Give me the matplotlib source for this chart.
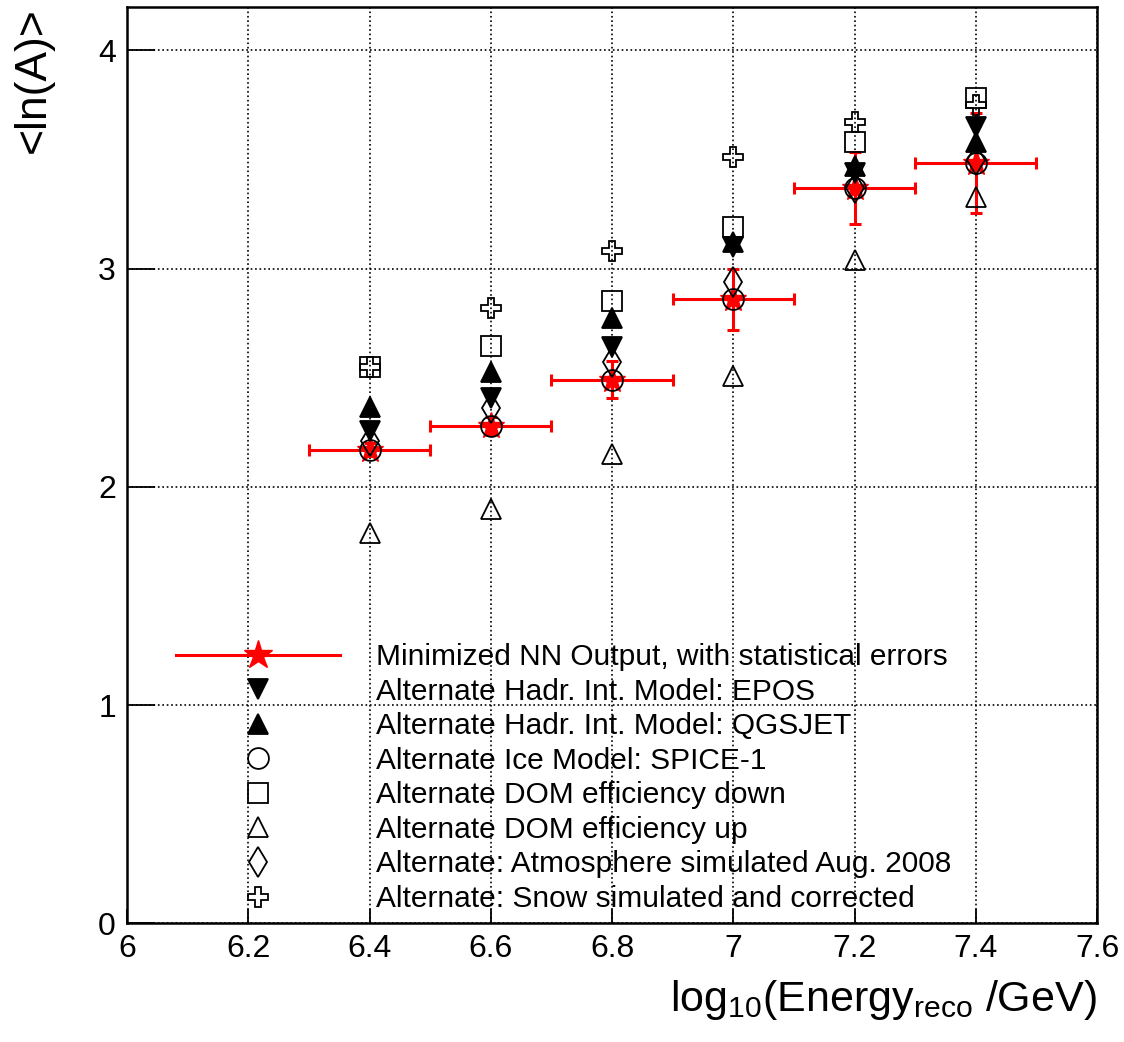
import numpy as np
import matplotlib
matplotlib.use("Agg")
import matplotlib.pyplot as plt
from matplotlib.lines import Line2D

plt.rcParams['font.family'] = ['Liberation Sans', 'DejaVu Sans']
plt.rcParams['mathtext.fontset'] = 'custom'
plt.rcParams['mathtext.rm'] = 'Liberation Sans'
plt.rcParams['mathtext.it'] = 'Liberation Sans'

# data
log_e = [6.4, 6.6, 6.8, 7.0, 7.2, 7.4]
x_err = [0.1, 0.1, 0.1, 0.1, 0.1, 0.1]

nn_output = [2.17, 2.28, 2.49, 2.86, 3.37, 3.485]
nn_stat_err = [0.03, 0.04, 0.085, 0.14, 0.165, 0.23]

epos = [2.255, 2.405, 2.64, 3.10, 3.44, 3.65]
qgsjet = [2.365, 2.525, 2.775, 3.12, 3.47, 3.58]
spice1 = [2.17, 2.28, 2.49, 2.86, 3.37, 3.485]
dom_down = [2.55, 2.645, 2.85, 3.19, 3.58, 3.78]
dom_up = [1.79, 1.90, 2.15, 2.51, 3.04, 3.33]
atmosphere = [2.21, 2.36, 2.57, 2.94, 3.37, 3.50]
snow = [2.55, 2.82, 3.08, 3.51, 3.67, 3.75]

labels = [
    "Minimized NN Output, with statistical errors",
    "Alternate Hadr. Int. Model: EPOS",
    "Alternate Hadr. Int. Model: QGSJET",
    "Alternate Ice Model: SPICE-1",
    "Alternate DOM efficiency down",
    "Alternate DOM efficiency up",
    "Alternate: Atmosphere simulated Aug. 2008",
    "Alternate: Snow simulated and corrected",
]

fig = plt.figure(figsize=(11.24, 10.42), dpi=100)
ax = fig.add_axes([0.113, 0.114, 0.863, 0.8795])

ms = 15

# main result with errors
ax.errorbar(log_e, nn_output, xerr=x_err, yerr=nn_stat_err,
            fmt='none', ecolor='red', elinewidth=2.2, capsize=4, capthick=2.2, zorder=3)
ax.plot(log_e, nn_output, ls='none', marker='*', ms=20, color='red', mec='red', zorder=4)

# systematic variations
styles = [
    (epos, 'v', 'black'),
    (qgsjet, '^', 'black'),
    (spice1, 'o', 'none'),
    (dom_down, 's', 'none'),
    (dom_up, '^', 'none'),
    (atmosphere, 'd', 'none'),
    (snow, 'P', 'none'),
]
handles = [Line2D([], [], color='red', lw=2.2, marker='*', ms=21, mec='red')]
for vals, mk, fc in styles:
    ax.plot(log_e, vals, ls='none', marker=mk, ms=ms, mfc=fc, mec='black', mew=1.3, zorder=5)
    handles.append(Line2D([], [], ls='none', marker=mk, ms=ms, mfc=fc, mec='black', mew=1.3))

ax.set_xlim(6, 7.6)
ax.set_ylim(0, 4.2)
ax.set_xticks([6, 6.2, 6.4, 6.6, 6.8, 7, 7.2, 7.4, 7.6])
ax.set_xticklabels(['6', '6.2', '6.4', '6.6', '6.8', '7', '7.2', '7.4', '7.6'])
ax.set_yticks([0, 1, 2, 3, 4])
ax.grid(True, color='black', ls=':', lw=1.2)
ax.tick_params(axis='both', direction='in', labelsize=23, width=1.3)
ax.tick_params(axis='x', length=10, pad=8)
ax.tick_params(axis='y', length=20, pad=8)
for sp in ax.spines.values():
    sp.set_linewidth(1.8)

ax.set_xlabel('log$_{10}$(Energy$_{\\rm reco}$ /GeV)', fontsize=31, loc='right', labelpad=10)
ax.set_ylabel('<ln(A)>', fontsize=32, loc='top', labelpad=32)

ax.legend(handles, labels, loc='upper left', bbox_to_anchor=(0.035, 0.322),
          frameon=False, fontsize=21.5, handlelength=5.5, handletextpad=1.2,
          labelspacing=0.22, borderpad=0)

fig.savefig('out.png', dpi=100)
